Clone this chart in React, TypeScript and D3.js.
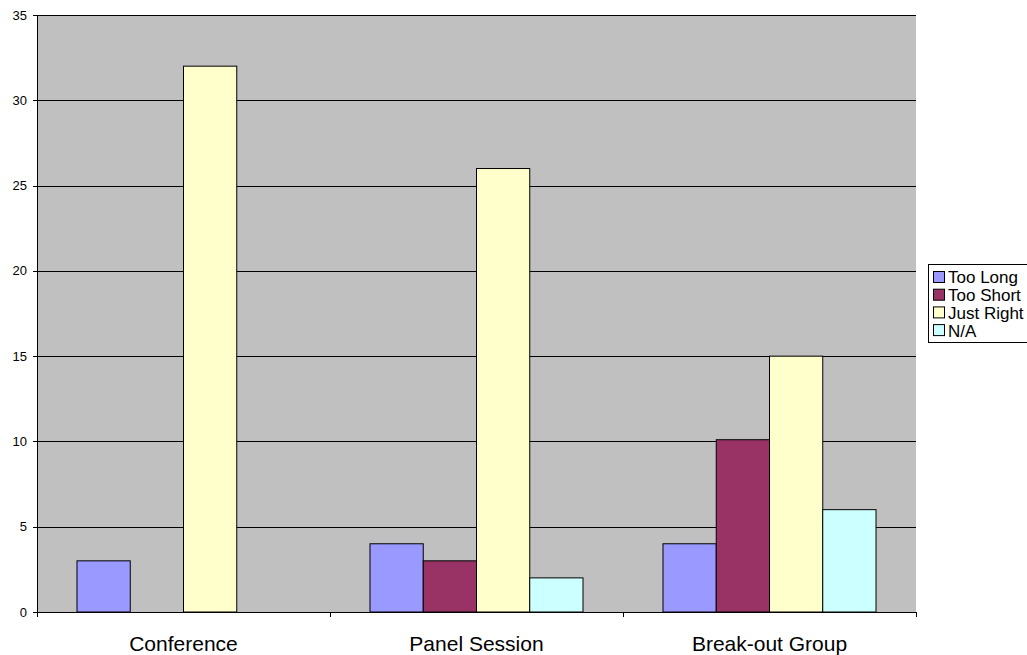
import React from "react";
import * as d3 from "d3";

const categories = ["Conference", "Panel Session", "Break-out Group"];
const series = ["Too Long", "Too Short", "Just Right", "N/A"];
const colors = ["#9999FF", "#993366", "#FFFFCC", "#CCFFFF"];
const tooLong = [3, 4, 4];
const tooShort = [0, 3, 10.1];
const justRight = [32, 26, 15];
const na = [0, 2, 6];
const yTicks = [0, 5, 10, 15, 20, 25, 30, 35];

const values = [tooLong, tooShort, justRight, na];

export default function App() {
  const W = 1027, H = 655;
  const left = 37, right = 916, top = 15, bottom = 612;
  const x0 = d3.scaleBand<string>().domain(categories).range([left, right]).padding(0);
  const gw = x0.bandwidth();
  const x1 = d3.scaleBand<string>().domain(series).range([gw * 0.1365, gw * (1 - 0.1365)]).padding(0);
  const y = d3.scaleLinear().domain([0, 35]).range([bottom, top]);
  const font = "'Liberation Sans', Arial, sans-serif";
  return (
    <svg width={W} height={H} style={{ position: "absolute", left: 0, top: 0 }} fontFamily={font}>
      <rect x={0} y={0} width={W} height={H} fill="#fff" />
      <rect x={left} y={top} width={right - left} height={bottom - top} fill="#C0C0C0" />
      {yTicks.map((t) => (
        <g key={t}>
          {t > 0 && <line x1={left} x2={right} y1={Math.round(y(t)) + 0.5} y2={Math.round(y(t)) + 0.5} stroke="#000" strokeWidth={1} />}
          <line x1={left - 4} x2={left} y1={Math.round(y(t)) + 0.5} y2={Math.round(y(t)) + 0.5} stroke="#000" />
          <text x={left - 10} y={y(t)} dy="0.35em" textAnchor="end" fontSize={13}>{t}</text>
        </g>
      ))}
      {categories.map((c, ci) => (
        <g key={c}>
          {series.map((s, si) => {
            const v = values[si][ci];
            if (!v) return null;
            const bx = x0(c)! + x1(s)!;
            return (
              <rect key={s} x={bx} y={y(v)} width={x1.bandwidth()} height={bottom - y(v)} fill={colors[si]} stroke="#000" strokeWidth={1} />
            );
          })}
          <text x={x0(c)! + gw / 2} y={bottom + 39} textAnchor="middle" fontSize={21}>{c}</text>
        </g>
      ))}
      <line x1={left + 0.5} x2={left + 0.5} y1={top} y2={bottom} stroke="#000" />
      <line x1={left} x2={right} y1={bottom + 0.5} y2={bottom + 0.5} stroke="#000" />
      {[...categories.map((c) => x0(c)!), right].map((xv, i) => (
        <line key={i} x1={Math.round(xv) + 0.5} x2={Math.round(xv) + 0.5} y1={bottom} y2={bottom + 5} stroke="#000" />
      ))}
      <rect x={928.5} y={264.5} width={110} height={78} fill="#fff" stroke="#000" />
      {series.map((s, i) => (
        <g key={s}>
          <rect x={933.5} y={271.5 + i * 17.7} width={11} height={11} fill={colors[i]} stroke="#000" />
          <text x={948} y={277.5 + i * 17.7} dy="0.35em" fontSize={17}>{s}</text>
        </g>
      ))}
    </svg>
  );
}
